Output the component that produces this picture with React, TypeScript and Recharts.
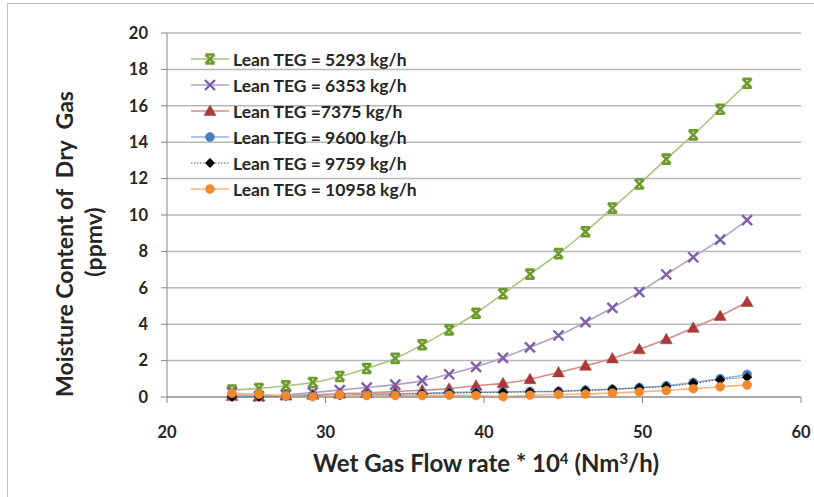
import React from 'react'
import { LineChart, Line, XAxis, YAxis, CartesianGrid, Legend, Label } from 'recharts'

// wet gas flow rate (*10^4 Nm3/h)
const flowRate = [24.1, 25.8, 27.5, 29.2, 30.9, 32.6, 34.4, 36.1, 37.8, 39.5, 41.2, 42.9, 44.7, 46.4, 48.1, 49.8, 51.5, 53.2, 54.9, 56.6]

// moisture content (ppmv) per lean TEG rate
const teg5293 = [0.38, 0.47, 0.62, 0.8, 1.13, 1.57, 2.12, 2.87, 3.69, 4.6, 5.67, 6.75, 7.88, 9.08, 10.38, 11.7, 13.07, 14.4, 15.81, 17.24]
const teg6353 = [0.25, 0.03, 0.12, 0.25, 0.38, 0.52, 0.68, 0.9, 1.25, 1.66, 2.15, 2.73, 3.38, 4.11, 4.9, 5.76, 6.73, 7.68, 8.65, 9.72]
const teg7375 = [0.05, 0.03, 0.08, 0.12, 0.18, 0.22, 0.3, 0.37, 0.46, 0.62, 0.75, 0.98, 1.35, 1.72, 2.12, 2.62, 3.17, 3.8, 4.45, 5.22]
const teg9600 = [0.05, 0.05, 0.08, 0.1, 0.12, 0.15, 0.18, 0.2, 0.25, 0.27, 0.28, 0.3, 0.32, 0.38, 0.43, 0.52, 0.62, 0.8, 1.0, 1.24]
const teg9759 = [0.0, 0.02, 0.05, 0.08, 0.1, 0.12, 0.15, 0.18, 0.22, 0.24, 0.26, 0.28, 0.3, 0.36, 0.42, 0.5, 0.58, 0.75, 0.95, 1.08]
const teg10958 = [0.2, 0.15, 0.06, 0.02, 0.12, 0.08, 0.08, 0.08, 0.1, 0.08, 0.02, 0.1, 0.14, 0.16, 0.22, 0.28, 0.36, 0.46, 0.56, 0.66]

const xTicks = [20, 30, 40, 50, 60]
const yTicks = [0, 2, 4, 6, 8, 10, 12, 14, 16, 18, 20]

const data = flowRate.map((x, i) => ({
  x,
  s1: teg5293[i],
  s2: teg6353[i],
  s3: teg7375[i],
  s4: teg9600[i],
  s5: teg9759[i],
  s6: teg10958[i],
}))

const FONT = 'Lato, "Open Sans", sans-serif'
const TEXT = '#262626'

// marker shapes
type M = { cx: number; cy: number; c: string }
const Bowtie = ({ cx, cy, c }: M) => {
  const s = 4.5
  return (
    <path
      d={`M${cx - s},${cy - s}L${cx + s},${cy + s}M${cx + s},${cy - s}L${cx - s},${cy + s}M${cx - s},${cy - s}H${cx + s}M${cx - s},${cy + s}H${cx + s}`}
      stroke={c} strokeWidth={2.6} fill="none"
    />
  )
}
const Cross = ({ cx, cy, c }: M) => {
  const s = 5
  return <path d={`M${cx - s},${cy - s}L${cx + s},${cy + s}M${cx + s},${cy - s}L${cx - s},${cy + s}`} stroke={c} strokeWidth={2.4} fill="none" />
}
const Tri = ({ cx, cy, c }: M) => (
  <path d={`M${cx},${cy - 6}L${cx + 6},${cy + 4.5}L${cx - 6},${cy + 4.5}Z`} fill={c} stroke={c} strokeWidth={0.5} />
)
const Circ = ({ cx, cy, c }: M) => <circle cx={cx} cy={cy} r={4.5} fill={c} stroke={c} strokeWidth={0.5} />
const Diamond = ({ cx, cy, c }: M) => (
  <path d={`M${cx},${cy - 5}L${cx + 5},${cy}L${cx},${cy + 5}L${cx - 5},${cy}Z`} fill={c} />
)

const series = [
  { key: 's1', name: 'Lean TEG = 5293 kg/h', line: '#A9C47F', mark: '#6E9B2D', Shape: Bowtie, dash: undefined, width: 1.6 },
  { key: 's2', name: 'Lean TEG = 6353 kg/h', line: '#B3A2C7', mark: '#7F5FA8', Shape: Cross, dash: undefined, width: 1.6 },
  { key: 's3', name: 'Lean TEG =7375 kg/h', line: '#D38C8A', mark: '#A83A37', Shape: Tri, dash: undefined, width: 1.6 },
  { key: 's4', name: 'Lean TEG = 9600 kg/h', line: '#8EB4E3', mark: '#4A7EBB', Shape: Circ, dash: undefined, width: 1.6 },
  { key: 's5', name: 'Lean TEG = 9759 kg/h', line: '#555555', mark: '#000000', Shape: Diamond, dash: '1.5 1.5', width: 1 },
  { key: 's6', name: 'Lean TEG = 10958 kg/h', line: '#F9B47C', mark: '#F0882E', Shape: Circ, dash: undefined, width: 1.6 },
]

const renderLegend = () => (
  <div style={{ display: 'flex', flexDirection: 'column' }}>
    {series.map(s => (
      <div key={s.key} style={{ height: 26, display: 'flex', alignItems: 'center' }}>
        <svg width={40} height={16}>
          <line x1={1} y1={8} x2={39} y2={8} stroke={s.line} strokeWidth={s.width} strokeDasharray={s.dash} />
          <s.Shape cx={20} cy={8} c={s.mark} />
        </svg>
        <span style={{ marginLeft: 3, fontFamily: FONT, fontWeight: 700, fontSize: 17.5, color: TEXT, whiteSpace: 'nowrap' }}>
          {s.name}
        </span>
      </div>
    ))}
  </div>
)

export default function App() {
  return (
    <div style={{ position: 'absolute', left: 0, top: 0, width: 814, height: 497, background: '#fff', overflow: 'hidden' }}>
      <div style={{ position: 'absolute', left: 7, top: 3, width: 900, height: 600, borderTop: '1.5px solid #BFBFBF', borderLeft: '1.5px solid #BFBFBF' }} />
      <LineChart width={814} height={497} data={data} margin={{ top: 33, right: 13, left: 0, bottom: 0 }}>
        <CartesianGrid vertical={false} stroke="#B8B8B8" strokeWidth={1.5} />
        <XAxis
          dataKey="x" type="number" domain={[20, 60]} ticks={xTicks} height={100}
          stroke="#868686" tickSize={6} tickMargin={23}
          tick={{ fontFamily: FONT, fontWeight: 700, fontSize: 16.5, fill: TEXT }}
        >
          <Label
            content={() => (
              <text x={486} y={472} textAnchor="middle" fontFamily={FONT} fontWeight={700} fontSize={24} fill={TEXT}>
                Wet Gas Flow rate * 10<tspan dy={-8} fontSize={15}>4</tspan>
                <tspan dy={8}> (Nm</tspan><tspan dy={-8} fontSize={15}>3</tspan><tspan dy={8}>/h)</tspan>
              </text>
            )}
          />
        </XAxis>
        <YAxis
          type="number" domain={[0, 20]} ticks={yTicks} width={167} interval={0}
          stroke="#868686" tickSize={6} tickMargin={13}
          tick={{ fontFamily: FONT, fontWeight: 700, fontSize: 16.5, fill: TEXT }}
        >
          <Label
            content={() => (
              <g fontFamily={FONT} fontWeight={700} fontSize={23} fill={TEXT}>
                <text transform="translate(73,244) rotate(-90)" textAnchor="middle">
                  {'Moisture Content of\u00A0 Dry\u00A0 Gas'}
                </text>
                <text transform="translate(102,242) rotate(-90)" textAnchor="middle">(ppmv)</text>
              </g>
            )}
          />
        </YAxis>
        <Legend
          layout="vertical" align="center" verticalAlign="middle"
          content={renderLegend}
          wrapperStyle={{ left: 190, top: 46, width: 'auto' }}
        />
        {series.map(s => (
          <Line
            key={s.key}
            dataKey={s.key}
            name={s.name}
            type="monotone"
            stroke={s.line}
            strokeWidth={s.width}
            strokeDasharray={s.dash}
            dot={(p: any) => <s.Shape key={`${s.key}-${p.index}`} cx={p.cx} cy={p.cy} c={s.mark} />}
            activeDot={false}
            isAnimationActive={false}
          />
        ))}
      </LineChart>
    </div>
  )
}
